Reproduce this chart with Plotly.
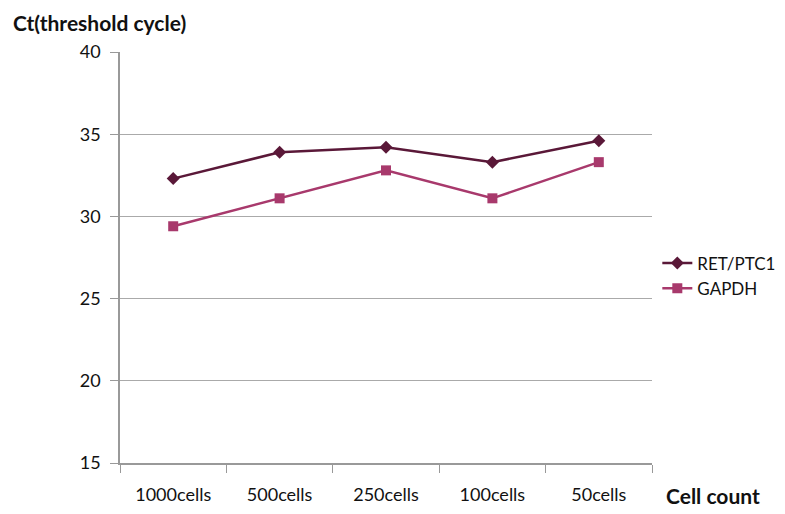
import plotly.graph_objects as go

categories = ["1000cells", "500cells", "250cells", "100cells", "50cells"]
ret_ptc1 = [32.3, 33.9, 34.2, 33.3, 34.6]
gapdh = [29.4, 31.1, 32.8, 31.1, 33.3]
y_ticks = [15, 20, 25, 30, 35, 40]

FONT = "Lato"
fig = go.Figure()
fig.add_trace(go.Scatter(x=categories, y=ret_ptc1, name="RET/PTC1", mode="lines+markers",
                         line=dict(color="#5A1838", width=2.5),
                         marker=dict(symbol="diamond", size=10, color="#5A1838")))
fig.add_trace(go.Scatter(x=categories, y=gapdh, name="GAPDH", mode="lines+markers",
                         line=dict(color="#A8396C", width=2.5),
                         marker=dict(symbol="square", size=10, color="#A8396C")))

fig.update_layout(
    width=785, height=514,
    margin=dict(l=112, r=135, t=44, b=59),
    paper_bgcolor="white", plot_bgcolor="white",
    font=dict(family=FONT, size=15, color="#111"),
    showlegend=True,
    legend=dict(x=1.01, y=0.455, xanchor="left", yanchor="middle",
                font=dict(size=17, family=FONT), bgcolor="rgba(0,0,0,0)",
                tracegroupgap=4, itemwidth=30),
    xaxis=dict(type="category", range=[-0.5, 4.5], showline=True, linecolor="#999",
               linewidth=1.5, ticks="outside", tickson="boundaries", ticklen=8,
               tickcolor="#999", showgrid=False, ticklabelstandoff=15,
               tickfont=dict(size=18, family=FONT, color="#111")),
    yaxis=dict(range=[15, 40], tickvals=y_ticks, showline=True, linecolor="#999",
               linewidth=1.5, ticks="outside", ticklen=8, tickcolor="#999",
               showgrid=True, gridcolor="#aaa", gridwidth=1.2, zeroline=False,
               ticklabelstandoff=6,
               tickfont=dict(size=18, family=FONT, color="#111")),
    annotations=[
        dict(text="<b>Ct(threshold cycle)</b>", xref="paper", yref="paper",
             x=-0.205, y=1.072, xanchor="left", yanchor="middle", showarrow=False,
             font=dict(size=21, family=FONT, color="#111")),
        dict(text="<b>Cell count</b>", xref="paper", yref="paper",
             x=1.022, y=-0.078, xanchor="left", yanchor="middle", showarrow=False,
             font=dict(size=21, family=FONT, color="#111")),
    ],
)
fig.write_html("out.html")
